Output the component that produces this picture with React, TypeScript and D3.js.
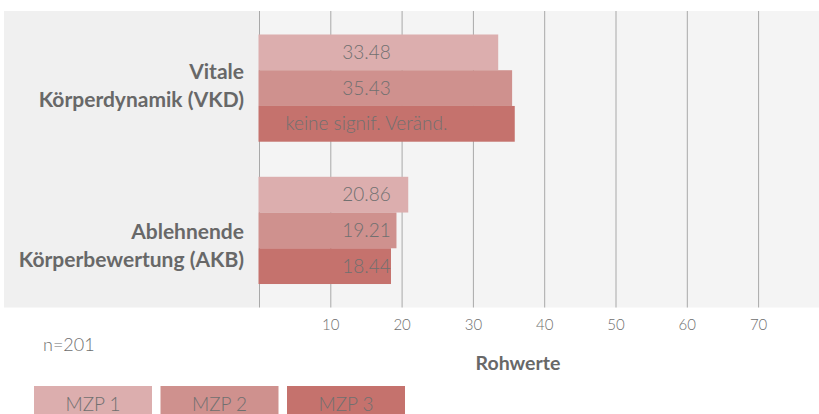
import React from 'react';
import * as d3 from 'd3';

const categories = ['VKD', 'AKB'];
const categoryLines = [
  ['Vitale', 'Körperdynamik (VKD)'],
  ['Ablehnende', 'Körperbewertung (AKB)'],
];
const seriesNames = ['MZP 1', 'MZP 2', 'MZP 3'];
const mzp1 = [33.48, 20.86];
const mzp2 = [35.43, 19.21];
const mzp3 = [35.8, 18.44];
const barLabels = [
  ['33.48', '35.43', 'keine signif. Veränd.'],
  ['20.86', '19.21', '18.44'],
];
const xTicks = [10, 20, 30, 40, 50, 60, 70];
const gridTicks = [0, 10, 20, 30, 40, 50, 60, 70];

const colors = ['#dcaeae', '#cf918e', '#c5726d'];
const series = [mzp1, mzp2, mzp3];

const W = 819;
const H = 414;
const plot = { left: 259.5, top: 11, bottom: 307.5 };
const FONT = 'Lato, "Open Sans", sans-serif';

export default function App() {
  const x = d3.scaleLinear().domain([0, 80]).range([plot.left, plot.left + 570.4]);
  const y = d3
    .scaleBand<string>()
    .domain(categories)
    .range([plot.top, plot.bottom])
    .paddingInner(0.2465)
    .paddingOuter(0.165);
  const ySub = d3
    .scaleBand<number>()
    .domain(d3.range(seriesNames.length))
    .range([0, y.bandwidth()]);

  // label block offsets as seen in the original
  const labelShift = [-2, 15];

  return (
    <svg
      width={W}
      height={H}
      style={{ position: 'absolute', left: 0, top: 0 }}
      fontFamily={FONT}
    >
      {/* panels */}
      <rect x={4} y={plot.top} width={plot.left - 4} height={plot.bottom - plot.top} fill="#f0f0f0" />
      <rect x={plot.left} y={plot.top} width={W - plot.left} height={plot.bottom - plot.top} fill="#f4f4f4" />

      {/* grid */}
      {gridTicks.map((t) => (
        <line
          key={t}
          x1={x(t)}
          x2={x(t)}
          y1={plot.top}
          y2={plot.bottom}
          stroke="#a8a8a8"
          strokeWidth={1}
        />
      ))}

      {/* bars */}
      {categories.map((c, ci) => (
        <g key={c} transform={`translate(0,${y(c)})`}>
          {series.map((s, si) => (
            <rect
              key={si}
              x={x(0) - 1}
              y={ySub(si)}
              width={x(s[ci]) - x(0) + 1}
              height={ySub.bandwidth()}
              fill={colors[si]}
            />
          ))}
          {series.map((s, si) => (
            <text
              key={'t' + si}
              x={x(15)}
              y={(ySub(si) ?? 0) + ySub.bandwidth() / 2}
              dy="0.35em"
              textAnchor="middle"
              fontSize={19}
              fontWeight={300}
              fill="#707070"
            >
              {barLabels[ci][si]}
            </text>
          ))}
        </g>
      ))}

      {/* category labels */}
      {categories.map((c, ci) => {
        const cy = (y(c) ?? 0) + y.bandwidth() / 2 + labelShift[ci];
        return (
          <text
            key={'c' + c}
            x={244}
            textAnchor="end"
            fontSize={21}
            fontWeight={700}
            fill="#686868"
          >
            {categoryLines[ci].map((line, li) => (
              <tspan key={li} x={244} y={cy - 14 + li * 28} dy="0.35em">
                {line}
              </tspan>
            ))}
          </text>
        );
      })}

      {/* x tick labels */}
      {xTicks.map((t) => (
        <text
          key={'x' + t}
          x={x(t)}
          y={325}
          dy="0.35em"
          textAnchor="middle"
          fontSize={15}
          fontWeight={300}
          fill="#6e6e6e"
        >
          {t}
        </text>
      ))}

      <text x={518} y={363} dy="0.35em" textAnchor="middle" fontSize={19.5} fontWeight={700} fill="#686868">
        Rohwerte
      </text>

      <text x={43} y={345} dy="0.35em" fontSize={18} fontWeight={300} fill="#6e6e6e">
        n=201
      </text>

      {/* legend */}
      {seriesNames.map((n, i) => (
        <g key={n} transform={`translate(${34 + i * 126.5},386)`}>
          <rect width={118} height={34} fill={colors[i]} />
          <text x={59} y={25} textAnchor="middle" fontSize={19} fontWeight={300} fill="#707070">
            {n}
          </text>
        </g>
      ))}
    </svg>
  );
}
